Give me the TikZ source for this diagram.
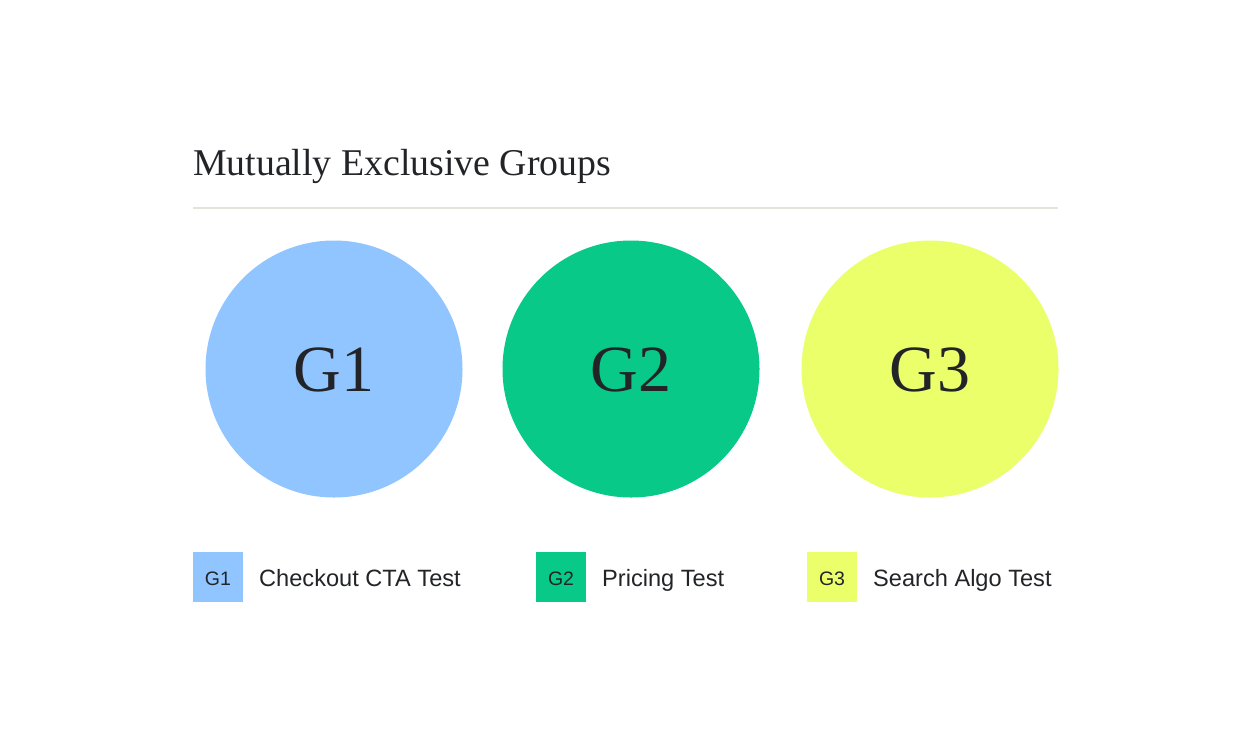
\documentclass[tikz,border=0pt]{standalone}
\usepackage{fontspec}
\setmainfont{Liberation Serif}
\setsansfont{Liberation Sans}
\definecolor{ink}{HTML}{222428}
\definecolor{rule}{HTML}{E4E4DA}
\definecolor{cblue}{HTML}{91C5FF}
\definecolor{cgreen}{HTML}{08C988}
\definecolor{cyellow}{HTML}{EBFF6A}
\tikzset{
  grp/.style={circle, minimum size=257pt, inner sep=0pt, fill=#1},
  grplabel/.style={anchor=base, inner sep=0pt, text=ink, font=\fontsize{66}{66}\selectfont},
  key/.style={minimum size=50pt, inner sep=0pt, fill=#1},
  keylabel/.style={anchor=base, inner sep=0pt, text=ink, font=\sffamily\fontsize{19.5}{20}\selectfont},
  keytext/.style={anchor=base west, inner sep=0pt, text=ink, font=\sffamily\fontsize{23.6}{24}\selectfont},
}
\begin{document}
\begin{tikzpicture}[x=1pt,y=-1pt]
\useasboundingbox[fill=white] (0,0) rectangle (1252,740);
\node[anchor=base west, inner sep=0pt, text=ink, font=\fontsize{37.8}{38}\selectfont] (title) at (193,175) {Mutually Exclusive Groups};
\coordinate (rl) at (193,208);
\coordinate (rr) at (1058,208);
\draw[rule, line width=2pt] (rl) -- (rr);
\node[grp=cblue] (g1) at (334,369) {};
\node[grp=cgreen] (g2) at (631,369) {};
\node[grp=cyellow] (g3) at (930,369) {};
\node[grplabel] (l1) at (334,391) {G1};
\node[grplabel] (l2) at (631,391) {G2};
\node[grplabel] (l3) at (930,391) {G3};
\node[key=cblue] (k1) at (218,577) {};
\node[key=cgreen] (k2) at (561,577) {};
\node[key=cyellow] (k3) at (832,577) {};
\node[keylabel] (kl1) at (218,585) {G1};
\node[keylabel] (kl2) at (561,585) {G2};
\node[keylabel] (kl3) at (832,585) {G3};
\node[keytext] (t1) at (259,586) {Checkout CTA Test};
\node[keytext] (t2) at (602,586) {Pricing Test};
\node[keytext] (t3) at (873,586) {Search Algo Test};
\end{tikzpicture}
\end{document}
